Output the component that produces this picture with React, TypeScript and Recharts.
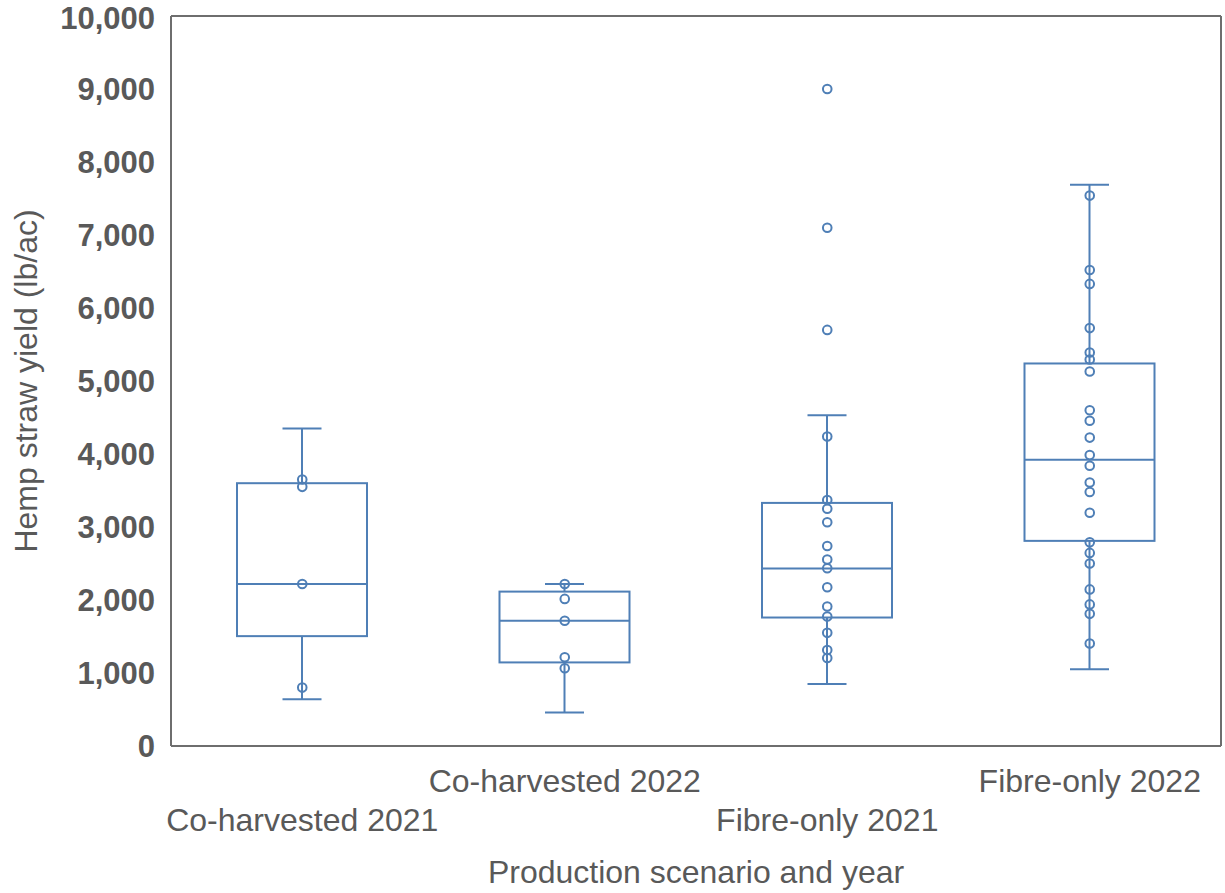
import { ComposedChart, Bar, Scatter, XAxis, YAxis } from 'recharts'

const categories = ['Co-harvested 2021', 'Co-harvested 2022', 'Fibre-only 2021', 'Fibre-only 2022']

// box plot summary per category (lb/ac)
const mins = [640, 460, 850, 1050]
const q1s = [1505, 1145, 1760, 2810]
const medians = [2220, 1715, 2430, 3920]
const q3s = [3600, 2115, 3330, 5240]
const maxs = [4350, 2220, 4530, 7690]

// individual observations
const coHarvested2021 = [3650, 3550, 2220, 800]
const coHarvested2022 = [2220, 2015, 1715, 1215, 1065]
const fibreOnly2021 = [9000, 7100, 5700, 4240, 3370, 3250, 3065, 2740, 2555, 2435, 2175, 1910, 1775, 1550, 1315, 1205]
const fibreOnly2022 = [7540, 6520, 6330, 5725, 5390, 5295, 5130, 4600, 4455, 4225, 3985, 3840, 3610, 3480, 3195, 2790, 2645, 2500, 2145, 1940, 1810, 1405]

const yTicks = [0, 1000, 2000, 3000, 4000, 5000, 6000, 7000, 8000, 9000, 10000]

const BLUE = '#4f7fb6'
const TEXT = '#595959'
const FRAME = '#6e6e6e'
const FONT = '"Liberation Sans", Arial, sans-serif'

const boxData = categories.map((name, i) => ({
  name,
  range: [mins[i], maxs[i]],
  min: mins[i],
  q1: q1s[i],
  median: medians[i],
  q3: q3s[i],
  max: maxs[i],
}))

const pointData = [coHarvested2021, coHarvested2022, fibreOnly2021, fibreOnly2022].flatMap((vals, i) =>
  vals.map(value => ({ name: categories[i], value }))
)

function BoxShape(props: any) {
  const { x, y, width, height, payload } = props
  const { min, q1, median, q3, max } = payload
  const py = (v: number) => y + ((max - v) / (max - min)) * height
  const cx = x + width / 2
  const cap = 19.5
  return (
    <g stroke={BLUE} strokeWidth={2} fill="none">
      <line x1={cx} x2={cx} y1={py(max)} y2={py(q3)} />
      <line x1={cx} x2={cx} y1={py(q1)} y2={py(min)} />
      <line x1={cx - cap} x2={cx + cap} y1={py(max)} y2={py(max)} />
      <line x1={cx - cap} x2={cx + cap} y1={py(min)} y2={py(min)} />
      <rect x={x} y={py(q3)} width={width} height={py(q1) - py(q3)} />
      <line x1={x} x2={x + width} y1={py(median)} y2={py(median)} />
    </g>
  )
}

function PointShape(props: any) {
  return <circle cx={props.cx} cy={props.cy} r={4.3} fill="none" stroke={BLUE} strokeWidth={2} />
}

function StaggerTick(props: any) {
  const { x, y, payload } = props
  const idx = categories.indexOf(payload.value)
  const dy = idx % 2 === 1 ? 38 : 77
  return (
    <text x={x} y={y + dy} textAnchor="middle" fill={TEXT} fontSize={32} fontFamily={FONT}>
      {payload.value}
    </text>
  )
}

export default function App() {
  return (
    <div style={{ position: 'absolute', left: 0, top: 0, width: 1225, height: 893, background: '#fff' }}>
      <ComposedChart
        width={1225}
        height={893}
        data={boxData}
        margin={{ top: 15, right: 3, bottom: 0, left: 0 }}
        style={{ fontFamily: FONT }}
      >
        <XAxis
          dataKey="name"
          allowDuplicatedCategory={false}
          height={147}
          tickLine={false}
          axisLine={{ stroke: FRAME, strokeWidth: 2 }}
          tick={<StaggerTick />}
          interval={0}
          label={{ value: 'Production scenario and year', position: 'insideBottom', offset: 10, fill: TEXT, fontSize: 32 }}
        />
        <XAxis xAxisId="top" dataKey="name" orientation="top" height={1} tick={false} tickLine={false} axisLine={{ stroke: FRAME, strokeWidth: 2 }} />
        <YAxis
          domain={[0, 10000]}
          ticks={yTicks}
          width={171}
          tickLine={false}
          tickMargin={10}
          axisLine={{ stroke: FRAME, strokeWidth: 2 }}
          tickFormatter={(v: number) => v.toLocaleString('en-US')}
          tick={{ fill: TEXT, fontSize: 31, fontWeight: 'bold' }}
          label={{ value: 'Hemp straw yield (lb/ac)', angle: -90, position: 'insideLeft', offset: 26, fill: TEXT, fontSize: 32, style: { textAnchor: 'middle' } }}
        />
        <YAxis yAxisId="right" orientation="right" domain={[0, 10000]} width={1} tick={false} tickLine={false} axisLine={{ stroke: FRAME, strokeWidth: 2 }} />
        <Bar dataKey="range" barSize={130} shape={<BoxShape />} isAnimationActive={false} />
        <Scatter data={pointData} dataKey="value" shape={<PointShape />} isAnimationActive={false} />
      </ComposedChart>
    </div>
  )
}
